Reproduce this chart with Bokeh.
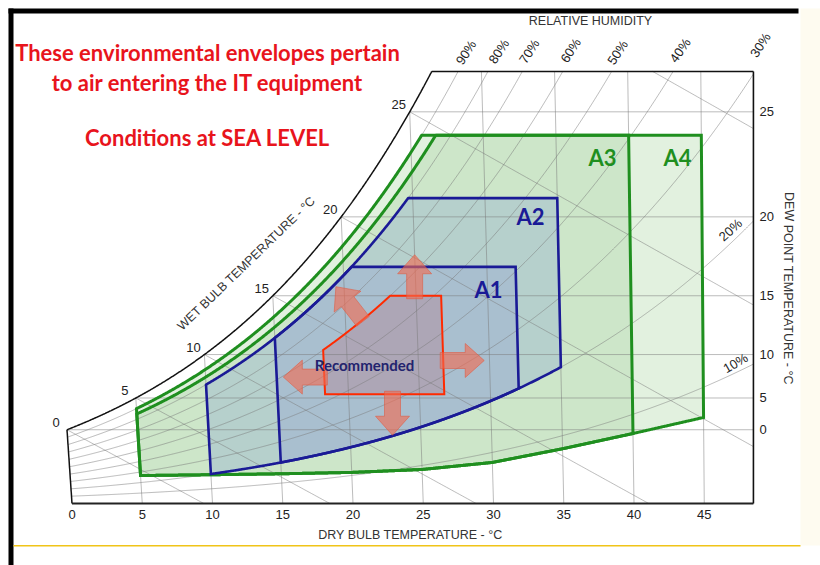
import numpy as np
from bokeh.plotting import figure
from bokeh.models import Range1d, FixedTicker
from bokeh.core.properties import value
from bokeh.embed import file_html
from bokeh.resources import INLINE

# ---------------- data ----------------
dry_bulb_ticks = [0, 5, 10, 15, 20, 25, 30, 35, 40, 45]
dew_point_ticks = [0, 5, 10, 15, 20, 25]
wet_bulb_lines = [0, 5, 10, 15, 20, 25, 30]
wet_bulb_labels = [0, 5, 10, 15, 20, 25]
rh_lines = [10, 20, 30, 40, 50, 60, 70, 80, 90]
chart_db_right = 48.5   # degC, right edge of chart
chart_w_top = 22.1      # g/kg, top edge of chart

env_names = ["A4", "A3", "A2", "A1", "Recommended"]
env_db_min = [5, 5, 10, 15, 18.35]
env_db_max = [45, 40, 35, 32, 26.75]
env_rh_min = [None, None, 20, 20, None]
env_rh_max = [90, 85, 80, 80, 60]
env_dp_min = [None, None, None, None, 5.5]
env_dp_max = [24, 24, 21, 17, 15]
# lower limit of A3 / A4 (humidity ratio g/kg read along the dry bulb scale)
a34_floor_db = [5, 10, 15, 20, 25, 30, 35, 40, 45]
a34_floor_w = [1.43, 1.47, 1.52, 1.59, 1.74, 2.10, 2.80, 3.58, 4.40]

arrow_db = [24.9, 26.75, 23.1, 18.35, 21.1]
arrow_dp = [15.0, 9.4, 5.5, 7.6, 13.2]
arrow_dir = [90, 0, -90, 180, 128]

title_lines = ["These environmental envelopes pertain",
               "to air entering the IT equipment",
               "Conditions at SEA LEVEL"]
class_labels = ["A1", "A2", "A3", "A4"]

# ---------------- psychrometrics (coordinate system) ----------------
P_ATM = 101.325


def pws(t):
    t = np.asarray(t, float)
    return np.where(t >= 0, 0.61094 * np.exp(17.625 * t / (t + 243.04)),
                    0.61115 * np.exp(22.452 * t / (272.55 + t)))


def w_pw(pw):
    return 622.0 * pw / (P_ATM - pw)


def w_dp(dp):
    return w_pw(pws(dp))


def w_rh(rh, t):
    return w_pw(rh / 100.0 * pws(t))


def w_wb(t, twb):
    ws = w_dp(twb) / 1000.0
    return 1000.0 * ((2501 - 2.326 * twb) * ws - 1.006 * (t - twb)) / (2501 + 1.86 * t - 4.186 * twb)


def xc(t, w):
    # oblique chart abscissa (dry-bulb lines lean slightly)
    t = np.asarray(t, float)
    return t + 1.85e-3 * np.asarray(w, float) * (t - 51.0)


RIGHT = chart_db_right
TOP = chart_w_top


def clip(xs, ys):
    out = []
    for i in range(len(xs) - 1):
        x0, y0, x1, y1 = xs[i], ys[i], xs[i + 1], ys[i + 1]
        t0, t1, ok = 0.0, 1.0, True
        for pp, qq in ((x1 - x0, RIGHT - x0), (y1 - y0, TOP - y0), (-(y1 - y0), y0)):
            if abs(pp) < 1e-12:
                if qq < 0:
                    ok = False
                    break
            else:
                r = qq / pp
                if pp > 0:
                    t1 = min(t1, r)
                else:
                    t0 = max(t0, r)
        if not ok or t0 > t1:
            continue
        a = (x0 + t0 * (x1 - x0), y0 + t0 * (y1 - y0))
        b = (x0 + t1 * (x1 - x0), y0 + t1 * (y1 - y0))
        if not out or abs(out[-1][0] - a[0]) > 1e-9 or abs(out[-1][1] - a[1]) > 1e-9:
            out.append(a)
        out.append(b)
    return [q[0] for q in out], [q[1] for q in out]


# ---------------- layout ----------------
W_PX, H_PX = 820, 565
PXC = 14.05          # px per degC
PXG = 19.55          # px per g/kg
X0_PX, Y0_PX = 71.5, 503.0
x_start = -X0_PX / PXC
x_end = x_start + W_PX / PXC
y_start = -(H_PX - Y0_PX) / PXG
y_end = Y0_PX / PXG


def sx2x(sx):
    return x_start + sx / PXC


def sy2y(sy):
    return (Y0_PX - sy) / PXG


RED = "#e8141c"
GREEN = "#1f8f1f"
BLUE = "#1a1a96"
NAVY = "#23236e"
ENV_LINE = {"A4": GREEN, "A3": GREEN, "A2": BLUE, "A1": BLUE, "Recommended": "#ff2a00"}
ENV_FILL = {"A4": "#e2f1df", "A3": "#cde6c9", "A2": "#b6d0cc", "A1": "#a9bfcf", "Recommended": "#ada6b6"}
ENV_LW = {"A4": 3, "A3": 3, "A2": 2.6, "A1": 2.6, "Recommended": 2}
GRID = dict(line_color="#7a7a7a", line_alpha=0.5, line_width=1)
FONT = "Liberation Sans"

p = figure(width=W_PX, height=H_PX, x_range=Range1d(x_start, x_end), y_range=Range1d(y_start, y_end),
           output_backend="svg", toolbar_location=None, y_axis_location="right",
           min_border_left=0, min_border_top=0, min_border_right=0, min_border_bottom=0,
           outline_line_color=None, background_fill_color="white", border_fill_color="white")
p.grid.visible = False

# ---------------- slide decoration ----------------
p.quad(left=[sx2x(800)], right=[sx2x(820)], bottom=[sy2y(545)], top=[sy2y(8)],
       fill_color="#fefbf0", line_color=None)
p.quad(left=[sx2x(8)], right=[sx2x(13)], bottom=[sy2y(565)], top=[sy2y(8)],
       fill_color="black", line_color=None)
p.quad(left=[sx2x(8)], right=[sx2x(798)], bottom=[sy2y(13)], top=[sy2y(8)],
       fill_color="black", line_color=None)
p.quad(left=[sx2x(13)], right=[sx2x(800)], bottom=[sy2y(546)], top=[sy2y(544.4)],
       fill_color="#f0c419", line_color=None)

# ---------------- envelopes (fills) ----------------
env_polys = {}
for name, t1, t2, rmin, rmax, dmin, dmax in zip(env_names, env_db_min, env_db_max, env_rh_min,
                                               env_rh_max, env_dp_min, env_dp_max):
    t = np.linspace(t1, t2, 700)
    if name in ("A3", "A4"):
        lo = np.interp(t, a34_floor_db, a34_floor_w)
    else:
        lo = np.zeros_like(t)
    if dmin is not None:
        lo = np.maximum(lo, w_dp(dmin))
    if rmin is not None:
        lo = np.maximum(lo, w_rh(rmin, t))
    up = np.full_like(t, 1e9)
    if dmax is not None:
        up = np.minimum(up, w_dp(dmax))
    if rmax is not None:
        up = np.minimum(up, w_rh(rmax, t))
    xs = np.concatenate([xc(t, lo), xc(t[::-1], up[::-1])])
    ys = np.concatenate([lo, up[::-1]])
    env_polys[name] = (xs, ys)
    p.patch(xs, ys, fill_color=ENV_FILL[name], line_color=None)

# ---------------- grid lines ----------------
gx, gy = [], []
for t in dry_bulb_ticks[1:]:
    wend = min(float(w_dp(t)), TOP)
    a, b = clip([float(xc(t, 0)), float(xc(t, wend))], [0.0, wend])
    gx.append(a); gy.append(b)
for d in dew_point_ticks:
    w = float(w_dp(d))
    a, b = clip([float(xc(d, w)), RIGHT], [w, w])
    gx.append(a); gy.append(b)
T = np.linspace(0, 56, 800)
rh_end = {}
for r in rh_lines:
    w = w_rh(r, T)
    a, b = clip(list(xc(T, w)), list(w))
    gx.append(a); gy.append(b)
    rh_end[r] = (a[-1], b[-1])
for twb in wet_bulb_lines:
    t = np.linspace(twb, twb + 45, 400)
    w = w_wb(t, twb)
    a, b = clip(list(xc(t, w)), list(w))
    gx.append(a); gy.append(b)
p.multi_line(gx, gy, **GRID)

# ---------------- envelope outlines ----------------
for name in env_names:
    xs, ys = env_polys[name]
    p.patch(xs, ys, fill_color=None, line_color=ENV_LINE[name], line_width=ENV_LW[name],
            line_join="miter")

# ---------------- chart frame ----------------
ts = np.linspace(0, 32, 600)
sat_x, sat_y = clip(list(xc(ts, w_dp(ts))), list(w_dp(ts)))
p.line(sat_x, sat_y, line_color="#111111", line_width=1.5)
w0 = float(w_dp(0))
p.line([float(xc(0, w0)), 0.0], [w0, 0.0], line_color="#111111", line_width=1.5)
p.line([sat_x[-1], RIGHT], [TOP, TOP], line_color="#111111", line_width=1.5)
p.line([0.0, RIGHT], [0.0, 0.0], line_color="#222222", line_width=2.2)
p.line([RIGHT, RIGHT], [0.0, TOP], line_color="#111111", line_width=1.6)

# ---------------- arrows ----------------
A_LEN, A_SW, A_HW, A_HL, A_BACK = 41, 16, 34, 19, 3
axs, ays = [], []
for db, dp, ang in zip(arrow_db, arrow_dp, arrow_dir):
    w0a = float(w_dp(dp))
    x0a = float(xc(db, w0a))
    ca, sa = np.cos(np.radians(ang)), np.sin(np.radians(ang))
    u = np.array([-A_BACK, A_LEN - A_HL, A_LEN - A_HL, A_LEN, A_LEN - A_HL, A_LEN - A_HL, -A_BACK], float)
    v = np.array([-A_SW / 2, -A_SW / 2, -A_HW / 2, 0, A_HW / 2, A_SW / 2, A_SW / 2], float)
    dxp = u * ca - v * sa
    dyp = u * sa + v * ca
    axs.append(list(x0a + dxp / PXC))
    ays.append(list(w0a + dyp / PXG))
p.patches(axs, ays, fill_color="#f26a50", fill_alpha=0.62, line_color="#e0583e",
          line_alpha=0.55, line_width=1)

# ---------------- labels ----------------
wbx = [float(xc(t, w_dp(t))) - 11 / PXC for t in wet_bulb_labels]
wby = [float(w_dp(t)) + 7 / PXG for t in wet_bulb_labels]
p.text(wbx, wby, text=[str(t) for t in wet_bulb_labels], text_font=value(FONT),
       text_font_size="13px", text_color="#222222", text_align="center", text_baseline="middle")

rh_off = {90: (8, -19), 80: (11, -20), 70: (7, -20), 60: (8, -21), 50: (6, -19),
          40: (7, -21), 30: (7, -29), 20: (-23, 9), 10: (-18, -1)}
rh_ang = {90: 57, 80: 57, 70: 57, 60: 57, 50: 57, 40: 55, 30: 57, 20: 42, 10: 30}
rx = [rh_end[r][0] + rh_off[r][0] / PXC for r in rh_lines]
ry = [rh_end[r][1] - rh_off[r][1] / PXG for r in rh_lines]
p.text(rx, ry, text=["%d%%" % r for r in rh_lines], angle=[np.radians(rh_ang[r]) for r in rh_lines],
       text_font=value(FONT), text_font_size="13px", text_color="#222222",
       text_align="center", text_baseline="middle")

AX_TITLE = dict(text_font=value(FONT), text_font_size="12.5px", text_color="#333333",
                text_align="center", text_baseline="middle")
p.text([sx2x(590)], [sy2y(20)], text=["RELATIVE HUMIDITY"], **AX_TITLE)
p.text([sx2x(246)], [sy2y(263)], text=["WET BULB TEMPERATURE - \u00b0C"], angle=[np.radians(44)],
       **AX_TITLE)
p.text([sx2x(410)], [sy2y(534)], text=["DRY BULB TEMPERATURE - \u00b0C"], **AX_TITLE)
p.text([sx2x(788)], [sy2y(288)], text=["DEW POINT TEMPERATURE - \u00b0C"], angle=[-np.pi / 2],
       **AX_TITLE)

p.text([sx2x(207)] * 3, [sy2y(52), sy2y(82), sy2y(137)], text=title_lines, text_font=value("Lato"),
       text_font_style="bold", text_font_size="22px", text_color=RED,
       text_align="center", text_baseline="middle")

cl_pos = {"A1": (488, 289), "A2": (530, 216), "A3": (602, 157), "A4": (677, 157)}
cl_col = {"A1": BLUE, "A2": BLUE, "A3": GREEN, "A4": GREEN}
for c in class_labels:
    p.text([sx2x(cl_pos[c][0])], [sy2y(cl_pos[c][1])], text=[c], text_font=value("Lato"),
           text_font_style="bold", text_font_size="22px", text_color=cl_col[c],
           text_align="center", text_baseline="middle")
p.text([sx2x(364)], [sy2y(364)], text=["Recommended"], text_font=value("Lato"),
       text_font_style="bold", text_font_size="15px", text_color=NAVY,
       text_align="center", text_baseline="middle")

# ---------------- axes (drawn at fixed chart locations) ----------------
xa = p.xaxis[0]
xa.fixed_location = 0
xa.ticker = FixedTicker(ticks=dry_bulb_ticks)
xa.axis_line_color = None
xa.major_tick_line_color = None
xa.minor_tick_line_color = None
xa.major_tick_out = 0
xa.major_tick_in = 0
xa.major_label_standoff = 6
xa.major_label_text_font = FONT
xa.major_label_text_font_size = "13px"
xa.major_label_text_color = "#222222"

ya = p.yaxis[0]
ya.fixed_location = RIGHT
dp_w = [round(float(w_dp(d)), 4) for d in dew_point_ticks]
ya.ticker = FixedTicker(ticks=dp_w)
ya.major_label_overrides = {w: str(d) for w, d in zip(dp_w, dew_point_ticks)}
ya.axis_line_color = None
ya.major_tick_line_color = None
ya.minor_tick_line_color = None
ya.major_tick_out = 0
ya.major_tick_in = 0
ya.major_label_standoff = 6
ya.major_label_text_font = FONT
ya.major_label_text_font_size = "13px"
ya.major_label_text_color = "#222222"

open("out.html", "w").write(file_html(p, INLINE))
